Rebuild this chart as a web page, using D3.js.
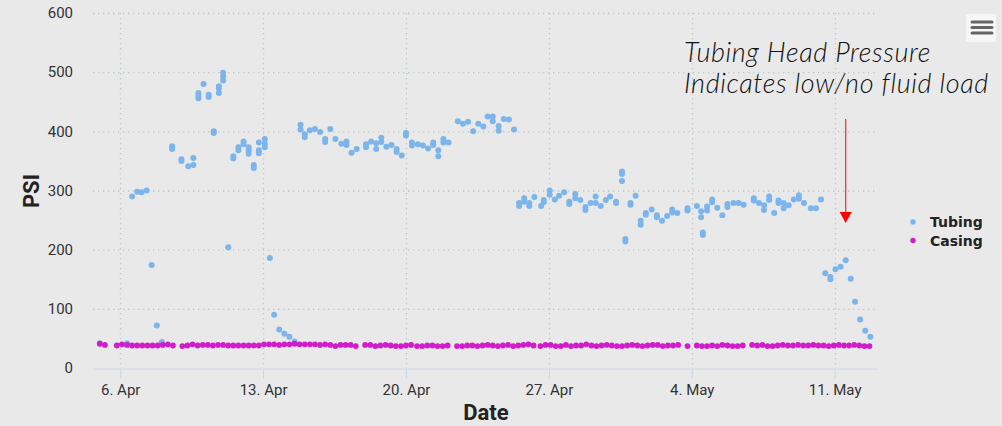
<!DOCTYPE html>
<html>
<head>
<meta charset="utf-8">
<script src="https://d3js.org/d3.v7.min.js"></script>
<style>
  body { margin: 0; background: #e9e9e9; }
  svg { display: block; }
  .tick text { font-family: Roboto, sans-serif; }
</style>
</head>
<body>
<svg id="chart" width="1002" height="426"></svg>
<script>
const svg = d3.select("#chart");
const width = +svg.attr("width");
const height = +svg.attr("height");

const parse = s => d3.timeParse("%Y-%m-%d %H")("2020-" + s);

// tubing readings [time, psi]
const tubing = [
  ["04-05 00", 42], ["04-06 08", 42], ["04-06 14", 290], ["04-06 20", 298],
  ["04-07 01", 297], ["04-07 07", 300], ["04-07 13", 174], ["04-07 19", 72],
  ["04-08 01", 44], ["04-08 13", 375], ["04-08 13", 370],
  ["04-09 00", 353], ["04-09 00", 350], ["04-09 08", 341],
  ["04-09 14", 355], ["04-09 14", 343],
  ["04-09 20", 465], ["04-09 20", 460], ["04-09 20", 456],
  ["04-10 02", 480], ["04-10 08", 462], ["04-10 08", 458],
  ["04-10 14", 400], ["04-10 14", 397],
  ["04-10 20", 476], ["04-10 20", 473], ["04-10 20", 465],
  ["04-11 01", 499], ["04-11 01", 493], ["04-11 01", 486],
  ["04-11 07", 204], ["04-11 13", 358], ["04-11 13", 354],
  ["04-11 19", 373], ["04-11 19", 368], ["04-12 01", 383], ["04-12 01", 378],
  ["04-12 07", 373], ["04-12 07", 368], ["04-12 07", 362],
  ["04-12 13", 343], ["04-12 13", 338],
  ["04-12 19", 381], ["04-12 19", 368], ["04-12 19", 363],
  ["04-13 02", 387], ["04-13 02", 379], ["04-13 02", 373],
  ["04-13 08", 186], ["04-13 13", 90], ["04-13 19", 65], ["04-14 01", 58],
  ["04-14 07", 53], ["04-14 13", 45],
  ["04-14 20", 411], ["04-14 20", 403], ["04-15 01", 395], ["04-15 01", 390],
  ["04-15 07", 402], ["04-15 13", 404], ["04-15 19", 399],
  ["04-16 01", 387], ["04-16 01", 382], ["04-16 07", 404], ["04-16 13", 387],
  ["04-16 20", 379], ["04-17 02", 383], ["04-17 02", 377], ["04-17 08", 364],
  ["04-17 14", 370], ["04-18 01", 378], ["04-18 01", 373], ["04-18 07", 383],
  ["04-18 13", 380], ["04-18 13", 370], ["04-18 19", 389], ["04-18 19", 382],
  ["04-19 01", 374], ["04-19 07", 377], ["04-19 13", 370], ["04-19 13", 365],
  ["04-19 19", 359], ["04-20 00", 397], ["04-20 00", 393],
  ["04-20 07", 381], ["04-20 07", 376], ["04-20 14", 378], ["04-20 20", 376],
  ["04-21 02", 371], ["04-21 08", 381], ["04-21 08", 377],
  ["04-21 14", 368], ["04-21 14", 358], ["04-21 20", 387], ["04-21 20", 381],
  ["04-22 02", 381], ["04-22 13", 417], ["04-22 19", 413], ["04-23 01", 416],
  ["04-23 07", 400], ["04-23 13", 413], ["04-23 19", 408], ["04-24 00", 425],
  ["04-24 06", 425], ["04-24 06", 417], ["04-24 13", 409], ["04-24 13", 401],
  ["04-24 19", 421], ["04-25 01", 420], ["04-25 07", 403],
  ["04-25 13", 279], ["04-25 13", 274], ["04-25 19", 287], ["04-25 19", 281],
  ["04-26 01", 279], ["04-26 01", 274], ["04-26 07", 289], ["04-26 15", 274],
  ["04-26 18", 284], ["04-26 18", 280], ["04-27 01", 300], ["04-27 01", 293],
  ["04-27 07", 285], ["04-27 12", 291], ["04-27 18", 297],
  ["04-28 00", 281], ["04-28 00", 277], ["04-28 07", 294], ["04-28 07", 287],
  ["04-28 13", 284], ["04-28 19", 272], ["04-28 19", 267], ["04-29 01", 279],
  ["04-29 07", 290], ["04-29 07", 279], ["04-29 13", 274], ["04-29 19", 284],
  ["04-30 00", 290], ["04-30 07", 281], ["04-30 07", 279],
  ["04-30 14", 332], ["04-30 14", 328], ["04-30 14", 316],
  ["04-30 18", 218], ["04-30 18", 214], ["05-01 00", 279], ["05-01 00", 276],
  ["05-01 06", 291], ["05-01 12", 249], ["05-01 12", 242],
  ["05-01 18", 262], ["05-01 18", 259], ["05-02 01", 268],
  ["05-02 07", 258], ["05-02 07", 255], ["05-02 13", 249], ["05-02 19", 257],
  ["05-03 01", 268], ["05-03 01", 263], ["05-03 07", 262],
  ["05-03 19", 270], ["05-03 19", 266], ["05-04 06", 274],
  ["05-04 11", 265], ["05-04 11", 255], ["05-04 13", 229], ["05-04 13", 225],
  ["05-04 18", 273], ["05-04 18", 266], ["05-05 00", 285], ["05-05 00", 280],
  ["05-05 06", 271], ["05-05 12", 258], ["05-05 18", 277], ["05-05 18", 272],
  ["05-06 01", 279], ["05-06 07", 279], ["05-06 13", 276],
  ["05-07 01", 287], ["05-07 01", 283], ["05-07 07", 279],
  ["05-07 13", 275], ["05-07 13", 267], ["05-07 19", 290], ["05-07 19", 284],
  ["05-08 01", 262], ["05-08 06", 283], ["05-08 06", 279],
  ["05-08 12", 279], ["05-08 12", 270], ["05-08 18", 275], ["05-09 00", 285],
  ["05-09 06", 292], ["05-09 06", 286], ["05-09 12", 279], ["05-09 20", 270],
  ["05-10 02", 270], ["05-10 08", 285], ["05-10 13", 160],
  ["05-10 19", 154], ["05-10 19", 150], ["05-11 01", 167], ["05-11 07", 171],
  ["05-11 13", 182], ["05-11 19", 151], ["05-12 00", 112], ["05-12 06", 82],
  ["05-12 12", 63], ["05-12 18", 53]
];

// casing readings, logged every 6 hours from each start
const casingRuns = [
  { start: "04-05 00", psi: [41, 39] },
  { start: "04-05 20", psi: [38, 40, 39, 38, 38, 38, 38, 38, 38, 39, 40, 38] },
  { start: "04-09 01", psi: [37, 38, 40, 38, 39, 39, 38, 39, 39, 38, 38, 38, 38, 38, 38, 38] },
  { start: "04-13 01", psi: [40, 40, 40, 39, 40, 40, 41, 40, 40, 40, 40, 39, 40, 39, 37] },
  { start: "04-16 19", psi: [39, 39, 39, 37] },
  { start: "04-18 00", psi: [39, 39, 37, 38, 39, 38, 37, 37, 38, 39] },
  { start: "04-20 13", psi: [37, 37, 38, 38, 37, 37, 38] },
  { start: "04-22 12", psi: [37, 37, 38, 38, 37, 38, 39, 38, 37, 38, 39, 37, 38, 39, 40, 38] },
  { start: "04-26 14", psi: [37, 39, 39, 37, 37, 39, 37, 38, 38, 40, 38, 37, 38, 39, 38, 37, 37, 38, 39, 38, 37, 38, 39, 39, 37, 38, 38, 39] },
  { start: "05-03 19", psi: [37] },
  { start: "05-04 06", psi: [38, 37, 37, 38, 37, 39, 38, 37, 37, 38] },
  { start: "05-06 23", psi: [39, 38, 39, 37, 37, 38, 39, 38, 38, 39, 38, 38, 39, 38, 38, 37, 38, 39, 38, 38, 39, 38, 37, 37] }
];

const tickDates = ["04-06 00", "04-13 00", "04-20 00", "04-27 00", "05-04 00", "05-11 00"];
const tickLabels = ["6. Apr", "13. Apr", "20. Apr", "27. Apr", "4. May", "11. May"];
const yTicks = [0, 100, 200, 300, 400, 500, 600];
const seriesNames = ["Tubing", "Casing"];
const seriesColors = ["#7cb5ec", "#d21bcb"];

const casing = [];
casingRuns.forEach(r => {
  const t0 = parse(r.start);
  r.psi.forEach((v, i) => casing.push([d3.timeHour.offset(t0, i * 6), v]));
});

const x = d3.scaleTime()
  .domain([parse("04-04 16"), parse("05-13 03")])
  .range([93, 878]);
const y = d3.scaleLinear().domain([0, 600]).range([368, 13]);

// gridlines
svg.append("g")
  .selectAll("line")
  .data(yTicks.slice(1))
  .join("line")
  .attr("x1", 93).attr("x2", 878)
  .attr("y1", d => y(d) + 0.5).attr("y2", d => y(d) + 0.5)
  .attr("stroke", "#b9c9c6").attr("stroke-width", 1.3)
  .attr("stroke-dasharray", "1.3,3.7");

svg.append("g")
  .selectAll("line")
  .data(tickDates)
  .join("line")
  .attr("x1", d => Math.round(x(parse(d))) + 0.5).attr("x2", d => Math.round(x(parse(d))) + 0.5)
  .attr("y1", 13).attr("y2", 368)
  .attr("stroke", "#b9c9c6").attr("stroke-width", 1.3)
  .attr("stroke-dasharray", "1.3,3.7");

// x axis
const xAxis = d3.axisBottom(x)
  .tickValues(tickDates.map(parse))
  .tickFormat((d, i) => tickLabels[i])
  .tickSizeInner(10).tickSizeOuter(0).tickPadding(6);
const gx = svg.append("g").attr("transform", "translate(0,368.5)").call(xAxis);
gx.select(".domain").attr("stroke", "#ccd6eb");
gx.selectAll(".tick line").attr("stroke", "#ccd6eb");
gx.selectAll(".tick text").attr("font-size", 15).attr("fill", "#333");

// y axis labels
const yAxis = d3.axisLeft(y).tickValues(yTicks).tickSize(0).tickPadding(20);
const gy = svg.append("g").attr("transform", "translate(93,0)").call(yAxis);
gy.select(".domain").remove();
gy.selectAll(".tick text").attr("font-size", 15).attr("fill", "#333");

// axis titles
svg.append("text")
  .attr("transform", "translate(39,191) rotate(-90)")
  .attr("text-anchor", "middle")
  .attr("font-family", "Roboto, sans-serif").attr("font-weight", "bold")
  .attr("font-size", 22).attr("fill", "#222")
  .text("PSI");
svg.append("text")
  .attr("x", 486).attr("y", 420)
  .attr("text-anchor", "middle")
  .attr("font-family", "Roboto, sans-serif").attr("font-weight", "bold")
  .attr("font-size", 22).attr("fill", "#222")
  .text("Date");

// points
svg.append("g")
  .selectAll("circle")
  .data(tubing)
  .join("circle")
  .attr("cx", d => x(parse(d[0])))
  .attr("cy", d => y(d[1]))
  .attr("r", 3)
  .attr("fill", seriesColors[0]);

svg.append("g")
  .selectAll("circle")
  .data(casing)
  .join("circle")
  .attr("cx", d => x(d[0]))
  .attr("cy", d => y(d[1]))
  .attr("r", 2.9)
  .attr("fill", seriesColors[1]);

// legend
const legend = svg.append("g")
  .selectAll("g")
  .data(seriesNames)
  .join("g")
  .attr("transform", (d, i) => `translate(913,${222 + i * 18.5})`);
legend.append("circle").attr("r", 2.7).attr("fill", (d, i) => seriesColors[i]);
legend.append("text")
  .attr("x", 17).attr("y", 5)
  .attr("font-family", "'DejaVu Sans', sans-serif").attr("font-weight", "bold")
  .attr("font-size", 14).attr("fill", "#222")
  .text(d => d);

// annotation
const note = svg.append("text")
  .attr("font-family", "Lato, sans-serif").attr("font-style", "italic")
  .attr("font-weight", 300).attr("font-size", 27).attr("letter-spacing", 0.6)
  .attr("fill", "#111");
note.append("tspan").attr("x", 684).attr("y", 62).text("Tubing Head Pressure");
note.append("tspan").attr("x", 684).attr("y", 93).text("Indicates low/no fluid load");

const arrowX = x(parse("05-11 13"));
svg.append("line")
  .attr("x1", arrowX).attr("x2", arrowX)
  .attr("y1", 119).attr("y2", 213)
  .attr("stroke", "#f33").attr("stroke-width", 1.3);
svg.append("path")
  .attr("d", `M${arrowX - 6},212L${arrowX + 6},212L${arrowX},223Z`)
  .attr("fill", "#ff0000");

// menu button
const menu = svg.append("g").attr("transform", "translate(966,14)");
menu.append("rect")
  .attr("width", 30).attr("height", 28).attr("rx", 2)
  .attr("fill", "#f7f7f7");
menu.selectAll("line")
  .data([8, 13.5, 19])
  .join("line")
  .attr("x1", 6).attr("x2", 26)
  .attr("y1", d => d).attr("y2", d => d)
  .attr("stroke", "#666").attr("stroke-width", 3).attr("stroke-linecap", "round");
</script>
</body>
</html>
